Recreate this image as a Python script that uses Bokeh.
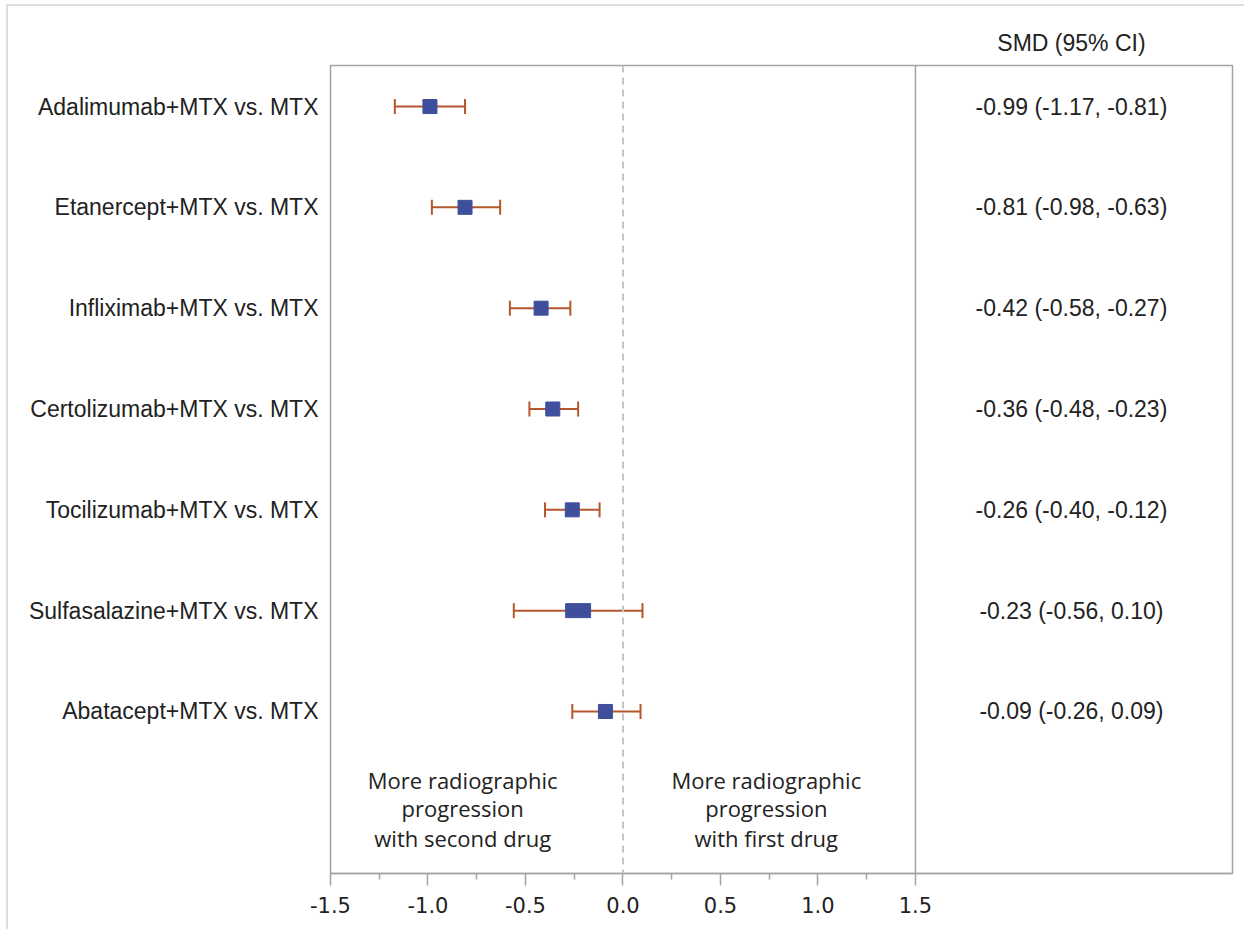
import math
from bokeh.plotting import figure
from bokeh.models import (Range1d, FixedTicker, LinearAxis, Span, ColumnDataSource)
from bokeh.core.properties import value
from bokeh.embed import file_html
from bokeh.resources import INLINE

# ---------------- data ----------------
comparisons = [
    "Adalimumab+MTX vs. MTX",
    "Etanercept+MTX vs. MTX",
    "Infliximab+MTX vs. MTX",
    "Certolizumab+MTX vs. MTX",
    "Tocilizumab+MTX vs. MTX",
    "Sulfasalazine+MTX vs. MTX",
    "Abatacept+MTX vs. MTX",
]
smd = [-0.99, -0.81, -0.42, -0.36, -0.26, -0.23, -0.09]
ci_lower = [-1.17, -0.98, -0.58, -0.48, -0.40, -0.56, -0.26]
ci_upper = [-0.81, -0.63, -0.27, -0.23, -0.12, 0.10, 0.09]
x_ticks = [-1.5, -1.0, -0.5, 0.0, 0.5, 1.0, 1.5]
x_tick_labels = ["-1.5", "-1.0", "-0.5", "0.0", "0.5", "1.0", "1.5"]
x_minor_ticks = [-1.25, -0.75, -0.25, 0.25, 0.75, 1.25]
header = "SMD (95% CI)"
note_left = ["More radiographic", "progression", "with second drug"]
note_right = ["More radiographic", "progression", "with first drug"]

# ---------------- styles / layout ----------------
ROWS = list(range(1, len(comparisons) + 1))
MARKER_W = [14, 14, 14, 14, 14, 25, 14]
TEXT_COL_X = 2.30
NOTE_X = [-0.822, 0.735]
NOTE_Y = [7.675, 7.962, 8.259]
GRAY = "#a3a3a3"
BAR_COLOR = "#b5562c"
BOX_COLOR = "#3f4f9c"
ARIAL = "Liberation Sans"
HUMAN = "Open Sans"

p = figure(width=1238, height=925, output_backend="svg", toolbar_location=None,
           x_range=Range1d(-1.5, 3.126), y_range=Range1d(8.607, 0.593),
           min_border_left=322, min_border_top=59, min_border_right=14,
           min_border_bottom=58, x_axis_type=None, y_axis_type=None)
p.styles = {"margin-left": "6px", "margin-top": "4px",
            "border-left": "2px solid #dedede", "border-top": "2px solid #dedede"}
p.grid.visible = False
p.outline_line_color = GRAY
p.outline_line_width = 1.5
p.background_fill_color = "white"
p.border_fill_color = "white"

# x axis (bottom)
xa = LinearAxis(ticker=FixedTicker(ticks=x_ticks, minor_ticks=x_minor_ticks),
                major_label_overrides={t: l for t, l in zip(x_ticks, x_tick_labels)})
xa.axis_line_color = GRAY
xa.axis_line_width = 1.5
xa.major_tick_line_color = GRAY
xa.major_tick_line_width = 1.5
xa.major_tick_in = 0
xa.major_tick_out = 12
xa.minor_tick_line_color = GRAY
xa.minor_tick_line_width = 1.5
xa.minor_tick_in = 0
xa.minor_tick_out = 6
xa.major_label_text_font = "DejaVu Sans"
xa.major_label_text_font_size = "21px"
xa.major_label_text_color = "#222222"
xa.major_label_standoff = 11
p.add_layout(xa, "below")

# y axis (labels)
ya = LinearAxis(ticker=FixedTicker(ticks=ROWS, minor_ticks=[]),
                major_label_overrides={r: c for r, c in zip(ROWS, comparisons)})
ya.axis_line_color = None
ya.major_tick_line_color = None
ya.minor_tick_line_color = None
ya.major_label_text_font = ARIAL
ya.major_label_text_font_size = "23px"
ya.major_label_text_color = "#222222"
ya.major_label_standoff = 6
p.add_layout(ya, "left")

# header axis (above)
ha = LinearAxis(ticker=FixedTicker(ticks=[TEXT_COL_X], minor_ticks=[]),
                major_label_overrides={TEXT_COL_X: header})
ha.axis_line_color = None
ha.major_tick_line_color = None
ha.minor_tick_line_color = None
ha.major_label_text_font = ARIAL
ha.major_label_text_font_size = "23px"
ha.major_label_text_color = "#222222"
ha.major_label_standoff = 4
p.add_layout(ha, "above")

# reference lines
p.add_layout(Span(location=0, dimension="height", line_color="#c4c4c4",
                  line_width=2, line_dash="7 5"))
p.add_layout(Span(location=1.5, dimension="height", line_color=GRAY, line_width=1.5))

src = ColumnDataSource(dict(
    row=ROWS, smd=smd, lo=ci_lower, hi=ci_upper, w=MARKER_W,
    txt=[f"{m:.2f} ({a:.2f}, {b:.2f})" for m, a, b in zip(smd, ci_lower, ci_upper)],
    tx=[TEXT_COL_X] * len(ROWS),
))

p.segment(x0="lo", y0="row", x1="hi", y1="row", source=src,
          line_color=BAR_COLOR, line_width=2)
p.scatter(x="lo", y="row", source=src, marker="dash", angle=math.pi / 2, size=15,
          line_color=BAR_COLOR, line_width=2)
p.scatter(x="hi", y="row", source=src, marker="dash", angle=math.pi / 2, size=15,
          line_color=BAR_COLOR, line_width=2)
p.rect(x="smd", y="row", width="w", height=14, width_units="screen",
       height_units="screen", source=src, fill_color=BOX_COLOR,
       line_color=BOX_COLOR, line_width=1)

p.text(x="tx", y="row", text="txt", source=src, text_font=value(ARIAL),
       text_font_size="23px", text_align="center", text_baseline="middle",
       text_color="#222222")

nx, ny, nt = [], [], []
for x, lines in zip(NOTE_X, [note_left, note_right]):
    for y, t in zip(NOTE_Y, lines):
        nx.append(x); ny.append(y); nt.append(t)
p.text(x=nx, y=ny, text=nt, text_font=value(HUMAN), text_font_size="22px",
       text_align="center", text_baseline="middle", text_color="#222222")

open("out.html", "w").write(file_html(p, INLINE))
